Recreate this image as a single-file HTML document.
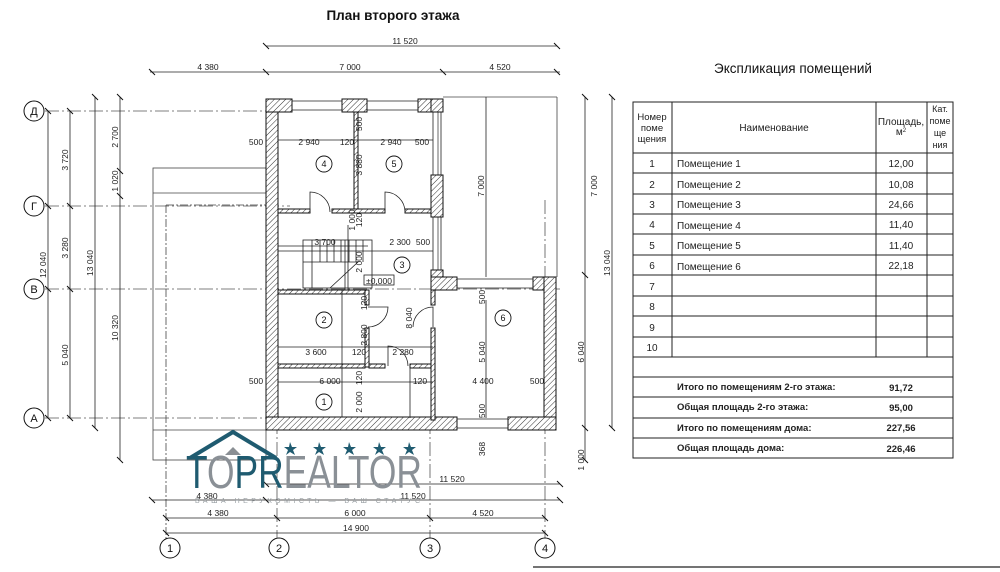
<!DOCTYPE html>
<html><head><meta charset="utf-8"><style>
html,body{margin:0;padding:0;background:#fff;width:1000px;height:572px;overflow:hidden}
svg{display:block;font-family:"Liberation Sans",sans-serif}
</style></head><body>
<svg width="1000" height="572" viewBox="0 0 1000 572" xmlns="http://www.w3.org/2000/svg">
<defs>
<pattern id="h" width="4" height="4" patternUnits="userSpaceOnUse" patternTransform="rotate(45)">
<rect width="4" height="4" fill="#fff"/><line x1="0" y1="0" x2="0" y2="4" stroke="#333" stroke-width="1"/></pattern>
</defs>
<g fill="#111" font-size="9">
<text x="393" y="20" font-size="13.5" font-weight="bold" text-anchor="middle">План второго этажа</text>
<text x="793" y="73" font-size="13.5" text-anchor="middle">Экспликация помещений</text>
</g>

<!-- ground floor outline -->
<g stroke="#444" stroke-width="0.8" fill="none">
<rect x="153" y="168" width="113" height="292"/>
<line x1="153" y1="193" x2="266" y2="193"/>
<line x1="166" y1="205" x2="266" y2="205" stroke-dasharray="8,2,2,2"/>
<line x1="166" y1="205" x2="166" y2="540" stroke-dasharray="8,2,2,2"/>
<line x1="153" y1="430" x2="266" y2="430"/>
<line x1="443" y1="97" x2="557" y2="97"/>
<line x1="557" y1="97" x2="557" y2="277"/>
<line x1="438" y1="112" x2="438" y2="277"/>
</g>

<!-- axes -->
<g stroke="#555" stroke-width="0.8" stroke-dasharray="14,3,2,3" fill="none">
<line x1="45" y1="111" x2="290" y2="111"/>
<line x1="45" y1="206" x2="290" y2="206"/>
<line x1="45" y1="289" x2="560" y2="289"/>
<line x1="45" y1="418" x2="290" y2="418"/>
<line x1="277" y1="420" x2="277" y2="540"/>
<line x1="430" y1="420" x2="430" y2="540"/>
<line x1="545" y1="420" x2="545" y2="540"/>
<line x1="545" y1="200" x2="545" y2="280"/>
</g>
<g stroke="#111" stroke-width="1" fill="#fff">
<circle cx="34" cy="111" r="10"/><circle cx="34" cy="206" r="10"/><circle cx="34" cy="289" r="10"/><circle cx="34" cy="418" r="10"/>
<circle cx="170" cy="548" r="10"/><circle cx="279" cy="548" r="10"/><circle cx="430" cy="548" r="10"/><circle cx="545" cy="548" r="10"/>
</g>
<g font-size="11" text-anchor="middle" fill="#111">
<text x="34" y="115">Д</text><text x="34" y="210">Г</text><text x="34" y="293">В</text><text x="34" y="422">А</text>
<text x="170" y="552">1</text><text x="279" y="552">2</text><text x="430" y="552">3</text><text x="545" y="552">4</text>
</g>

<!-- dimension lines -->
<g stroke="#222" stroke-width="0.8">
<line x1="266" y1="46" x2="557" y2="46"/>
<line x1="150" y1="72" x2="560" y2="72"/>
<line x1="48" y1="111" x2="48" y2="418"/>
<line x1="70" y1="111" x2="70" y2="418"/>
<line x1="95" y1="97" x2="95" y2="428"/>
<line x1="120" y1="97" x2="120" y2="460"/>
<line x1="585" y1="97" x2="585" y2="460"/>
<line x1="612" y1="97" x2="612" y2="428"/>
<line x1="486" y1="97" x2="486" y2="277"/>
<line x1="266" y1="484" x2="560" y2="484"/>
<line x1="152" y1="500" x2="560" y2="500"/>
<line x1="166" y1="518" x2="545" y2="518"/>
<line x1="166" y1="533" x2="545" y2="533"/>
<line x1="533" y1="567" x2="1000" y2="567" stroke-width="1.2"/>
</g>
<g stroke="#111" stroke-width="1">
<path d="M263 43l6 6M554 43l6 6M149 69l6 6M263 69l6 6M440 69l6 6M554 69l6 6
M45 108l6 6M45 203l6 6M45 286l6 6M45 415l6 6M67 108l6 6M67 203l6 6M67 286l6 6M67 415l6 6
M92 94l6 6M92 425l6 6M117 94l6 6M117 168l6 6M117 193l6 6M117 457l6 6
M582 94l6 6M582 272l6 6M582 425l6 6M582 457l6 6M609 94l6 6M609 425l6 6
M263 481l6 6M557 481l6 6M149 497l6 6M263 497l6 6M557 497l6 6
M163 515l6 6M274 515l6 6M427 515l6 6M542 515l6 6M163 530l6 6M542 530l6 6"/>
</g>
<g font-size="8.5" fill="#222" text-anchor="middle">
<text x="405" y="44">11 520</text>
<text x="208" y="70">4 380</text><text x="350" y="70">7 000</text><text x="500" y="70">4 520</text>
<text transform="translate(46 265) rotate(-90)">12 040</text>
<text transform="translate(68 160) rotate(-90)">3 720</text>
<text transform="translate(68 248) rotate(-90)">3 280</text>
<text transform="translate(68 355) rotate(-90)">5 040</text>
<text transform="translate(93 263) rotate(-90)">13 040</text>
<text transform="translate(118 137) rotate(-90)">2 700</text>
<text transform="translate(118 181) rotate(-90)">1 020</text>
<text transform="translate(118 328) rotate(-90)">10 320</text>
<text transform="translate(597 186) rotate(-90)">7 000</text>
<text transform="translate(584 352) rotate(-90)">6 040</text>
<text transform="translate(584 460) rotate(-90)">1 000</text>
<text transform="translate(610 263) rotate(-90)">13 040</text>
<text transform="translate(484 186) rotate(-90)">7 000</text>
<text x="452" y="482">11 520</text>
<text x="207" y="499">4 380</text><text x="413" y="499">11 520</text>
<text x="218" y="516">4 380</text><text x="355" y="516">6 000</text><text x="483" y="516">4 520</text>
<text x="356" y="531">14 900</text>
</g>

<!-- walls -->
<g stroke="#111" stroke-width="1" fill="url(#h)">
<rect x="266" y="99" width="12" height="331"/>
<rect x="266" y="99" width="26" height="13"/>
<rect x="342" y="99" width="25" height="13"/>
<rect x="418" y="99" width="25" height="13"/>
<rect x="431" y="99" width="12" height="13"/>
<rect x="431" y="175" width="12" height="42"/>
<rect x="431" y="270" width="12" height="20"/>
<rect x="431" y="277" width="26" height="13"/>
<rect x="533" y="277" width="23" height="13"/>
<rect x="544" y="277" width="12" height="153"/>
<rect x="266" y="417" width="191" height="13"/>
<rect x="508" y="417" width="48" height="13"/>
<rect x="354" y="112" width="4" height="98"/>
<rect x="278" y="209" width="32" height="4"/>
<rect x="332" y="209" width="53" height="4"/>
<rect x="405" y="209" width="26" height="4"/>
<rect x="278" y="290" width="87" height="4"/>
<rect x="365" y="290" width="4" height="15"/>
<rect x="365" y="328" width="4" height="39"/>
<rect x="278" y="364" width="87" height="4"/>
<rect x="369" y="364" width="16" height="4"/>
<rect x="410" y="364" width="23" height="4"/>
<rect x="431" y="290" width="4" height="15"/>
<rect x="431" y="328" width="4" height="92"/>
</g>
<g stroke="#222" stroke-width="0.8" fill="none">
<path d="M292 101h50M292 110h50M367 101h51M367 110h51M433 112v63M441 112v63M433 217v53M441 217v53M457 279h76M457 288h76M457 419h51M457 428h51"/>
<path d="M310 212v-20a20 20 0 0 1 20 20M385 212v-20a20 20 0 0 1 20 20M368 307h20a20 20 0 0 1 -20 20M433 327v-20a20 20 0 0 0 -20 20M388 366v-20a20 20 0 0 1 20 20"/>
<rect x="303" y="240" width="69" height="48"/>
<path d="M312 240v48M320 240v22M327 240v22M334 240v22M341 240v22M349 240v22M356 240v22M363 240v22M303 262h55L330 288"/>
<path d="M278 246h90M278 251h155M345 240v50M348 225v65M278 140h155M278 382h155M278 347h155M342 290v127M410 368v50M486 368v50M486 300v117"/>
<rect x="364" y="275" width="30" height="10"/>
</g>
<g font-size="8.5" fill="#222" text-anchor="middle">
<text x="256" y="145">500</text><text x="309" y="145">2 940</text><text x="347" y="145">120</text><text x="391" y="145">2 940</text><text x="422" y="145">500</text>
<text transform="translate(362 124) rotate(-90)">500</text>
<text transform="translate(362 165) rotate(-90)">3 880</text>
<text transform="translate(355 220) rotate(-90)">1 000</text>
<text transform="translate(362 220) rotate(-90)">120</text>
<text x="325" y="245">3 700</text><text x="400" y="245">2 300</text><text x="423" y="245">500</text>
<text transform="translate(362 262) rotate(-90)">2 000</text>
<text x="379" y="284">±0,000</text>
<text transform="translate(367 303) rotate(-90)">120</text>
<text transform="translate(367 335) rotate(-90)">2 800</text>
<text transform="translate(412 318) rotate(-90)">8 040</text>
<text x="316" y="355">3 600</text><text x="359" y="355">120</text><text x="403" y="355">2 280</text>
<text transform="translate(362 378) rotate(-90)">120</text>
<text transform="translate(362 402) rotate(-90)">2 000</text>
<text x="256" y="384">500</text><text x="330" y="384">6 000</text><text x="420" y="384">120</text><text x="483" y="384">4 400</text><text x="537" y="384">500</text>
<text transform="translate(485 297) rotate(-90)">500</text>
<text transform="translate(485 352) rotate(-90)">5 040</text>
<text transform="translate(485 411) rotate(-90)">500</text>
<text transform="translate(485 449) rotate(-90)">368</text>
</g>
<g stroke="#111" stroke-width="0.9" fill="#fff">
<circle cx="324" cy="164" r="8"/><circle cx="394" cy="164" r="8"/><circle cx="402" cy="265" r="8"/>
<circle cx="324" cy="320" r="8"/><circle cx="503" cy="318" r="8"/><circle cx="324" cy="402" r="8"/>
</g>
<g font-size="9" fill="#111" text-anchor="middle">
<text x="324" y="167">4</text><text x="394" y="167">5</text><text x="402" y="268">3</text><text x="324" y="323">2</text><text x="503" y="321">6</text><text x="324" y="405">1</text>
</g>

<!-- logo -->
<g>
<path d="M190 458L233 432L276 458" stroke="#1f5b70" stroke-width="4" fill="none"/>
<path d="M225 455L233 447L241 455Z" fill="#8a8f94"/>
<g fill="#1f5b70">
<path d="M290 442l2 5h5l-4 3 2 5-5-3-4 3 2-5-4-3h5z"/>
<path d="M319 442l2 5h5l-4 3 2 5-5-3-4 3 2-5-4-3h5z"/>
<path d="M349 442l2 5h5l-4 3 2 5-5-3-4 3 2-5-4-3h5z"/>
<path d="M379 442l2 5h5l-4 3 2 5-5-3-4 3 2-5-4-3h5z"/>
<path d="M409 442l2 5h5l-4 3 2 5-5-3-4 3 2-5-4-3h5z"/>
</g>
<text x="186" y="488" font-size="46" textLength="236" lengthAdjust="spacingAndGlyphs" fill="#8a9096"><tspan fill="#1f5b70">T</tspan>O<tspan fill="#1f5b70">PR</tspan>EALTOR</text>
<text x="195" y="503" font-size="7" fill="#9aa0a4" textLength="225" lengthAdjust="spacing">ВАША НЕРУХОМІСТЬ — ВАШ СТАТУС</text>
</g>

<!-- table -->
<g stroke="#222" stroke-width="1" fill="none">
<rect x="633" y="102" width="320" height="356"/>
<path d="M672 102v255M876 102v255M927 102v255M633 153h320M633 173h320M633 194h320M633 214h320M633 234h320M633 255h320M633 275h320M633 296h320M633 316h320M633 337h320M633 357h320M633 377h320M633 397h320M633 418h320M633 438h320"/>
</g>
<g font-size="10" fill="#222">
<text x="652" y="120" text-anchor="middle" font-size="9.5">Номер</text><text x="652" y="131" text-anchor="middle" font-size="9.5">поме</text><text x="652" y="142" text-anchor="middle" font-size="9.5">щения</text>
<text x="774" y="131" text-anchor="middle">Наименование</text>
<text x="901" y="125" text-anchor="middle">Площадь,</text><text x="901" y="135" text-anchor="middle">м<tspan font-size="6" dy="-3">2</tspan></text>
<text x="940" y="112" text-anchor="middle" font-size="9">Кат.</text><text x="940" y="124" text-anchor="middle" font-size="9">поме</text><text x="940" y="136" text-anchor="middle" font-size="9">ще</text><text x="940" y="148" text-anchor="middle" font-size="9">ния</text>
<g text-anchor="middle">
<text x="652" y="167">1</text><text x="652" y="188">2</text><text x="652" y="208">3</text><text x="652" y="228">4</text><text x="652" y="249">5</text><text x="652" y="269">6</text><text x="652" y="290">7</text><text x="652" y="310">8</text><text x="652" y="331">9</text><text x="652" y="351">10</text>
<text x="901" y="167">12,00</text><text x="901" y="188">10,08</text><text x="901" y="208">24,66</text><text x="901" y="228">11,40</text><text x="901" y="249">11,40</text><text x="901" y="269">22,18</text>
</g>
<text x="677" y="167">Помещение 1</text><text x="677" y="188">Помещение 2</text><text x="677" y="208">Помещение 3</text><text x="677" y="229">Помещение 4</text><text x="677" y="249">Помещение 5</text><text x="677" y="270">Помещение 6</text>
<g font-weight="bold" font-size="9.5">
<text x="677" y="390">Итого по помещениям 2-го этажа:</text><text x="677" y="410">Общая площадь 2-го этажа:</text><text x="677" y="431">Итого по помещениям дома:</text><text x="677" y="451">Общая площадь дома:</text>
<g text-anchor="middle"><text x="901" y="391">91,72</text><text x="901" y="411">95,00</text><text x="901" y="431">227,56</text><text x="901" y="452">226,46</text></g>
</g>
</g>
</svg>
</body></html>
